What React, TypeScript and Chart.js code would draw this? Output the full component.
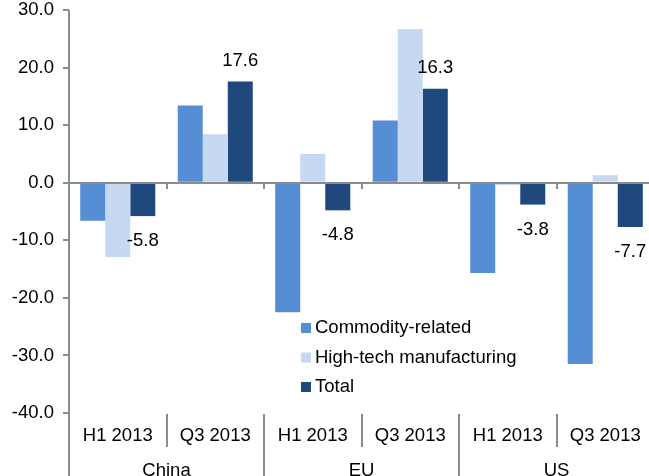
import React, { useEffect, useRef } from 'react';
import { Chart, registerables } from 'chart.js';

Chart.register(...registerables);

const categories = ['H1 2013', 'Q3 2013', 'H1 2013', 'Q3 2013', 'H1 2013', 'Q3 2013'];
const groups = ['China', 'EU', 'US'];
const commodityRelated = [-6.6, 13.4, -22.5, 10.8, -15.7, -31.5];
const highTechManufacturing = [-12.9, 8.4, 5.0, 26.7, -0.4, 1.3];
const totalValues = [-5.8, 17.6, -4.8, 16.3, -3.8, -7.7];
const seriesLabels = ['Commodity-related', 'High-tech manufacturing', 'Total'];
const seriesColors = ['#558ED5', '#C6D9F1', '#1F497D'];
const yMin = -40;
const yMax = 30;
const yStep = 10;

const FONT = '"Liberation Sans", Arial, Helvetica, sans-serif';
const FSIZE = 18.5;
const AXIS = '#8c8c8c';

function line(ctx: CanvasRenderingContext2D, x1: number, y1: number, x2: number, y2: number) {
  ctx.beginPath();
  ctx.moveTo(x1, y1);
  ctx.lineTo(x2, y2);
  ctx.stroke();
}

const decorPlugin = {
  id: 'decor',
  afterDatasetsDraw(chart: any) {
    const { ctx, chartArea: a, scales } = chart;
    const xs = scales.x;
    const ys = scales.y;
    const n = chart.data.labels.length;
    const cw = (a.right - a.left) / n;
    const y0 = Math.round(ys.getPixelForValue(0));
    ctx.save();
    ctx.strokeStyle = AXIS;
    ctx.lineWidth = 2;
    // zero line
    line(ctx, a.left, y0, a.right, y0);
    // small ticks on zero line at category boundaries
    for (let i = 1; i < n; i++) {
      const bx = Math.round(xs.getPixelForValue(i) - cw / 2);
      line(ctx, bx, y0, bx, y0 + 6);
    }
    // y axis line extending to bottom
    line(ctx, a.left, a.top, a.left, chart.height);
    // category dividers
    for (let i = 1; i < n; i++) {
      const bx = Math.round(xs.getPixelForValue(i) - cw / 2);
      const bottom = i % 2 === 0 ? chart.height : a.bottom + 34;
      line(ctx, bx, a.bottom + 1, bx, bottom);
    }
    // group labels
    ctx.fillStyle = '#000';
    ctx.font = `${FSIZE}px ${FONT}`;
    ctx.textAlign = 'center';
    ctx.textBaseline = 'alphabetic';
    groups.forEach((g, gi) => {
      const cx = (xs.getPixelForValue(gi * 2) + xs.getPixelForValue(gi * 2 + 1)) / 2;
      ctx.fillText(g, cx, 476);
    });
    // data labels on Total
    const meta = chart.getDatasetMeta(2);
    ctx.textBaseline = 'middle';
    meta.data.forEach((bar: any, i: number) => {
      const v = totalValues[i];
      const ty = v >= 0 ? bar.y - 20.5 : bar.y + 25;
      ctx.fillText(v.toFixed(1), bar.x, ty);
    });
    // legend
    ctx.textAlign = 'left';
    chart.data.datasets.forEach((ds: any, i: number) => {
      const cy = 328 + i * 29.5;
      ctx.fillStyle = ds.backgroundColor;
      ctx.fillRect(301, cy - 5, 10, 10);
      ctx.fillStyle = '#000';
      ctx.fillText(ds.label, 315, cy);
    });
    ctx.restore();
  },
};

export default function App() {
  const canvasRef = useRef<HTMLCanvasElement | null>(null);

  useEffect(() => {
    document.body.style.margin = '0';
    if (!canvasRef.current) return;
    const datasets = [commodityRelated, highTechManufacturing, totalValues].map((d, i) => ({
      label: seriesLabels[i],
      data: d,
      backgroundColor: seriesColors[i],
      borderWidth: 0,
      barPercentage: 1,
      categoryPercentage: 0.77,
    }));
    const chart = new Chart(canvasRef.current, {
      type: 'bar',
      data: { labels: categories, datasets },
      options: {
        responsive: false,
        animation: false,
        devicePixelRatio: 1,
        layout: { padding: { top: 0, right: 6, bottom: 0, left: 0 } },
        plugins: { legend: { display: false }, tooltip: { enabled: false } },
        scales: {
          x: {
            grid: { display: false, drawTicks: false },
            border: { display: false },
            ticks: { color: '#000', font: { family: FONT, size: FSIZE }, padding: 12, maxRotation: 0, autoSkip: false },
            afterFit: (s: any) => { s.height = 63; },
          },
          y: {
            min: yMin,
            max: yMax,
            grid: { display: true, drawOnChartArea: false, drawTicks: true, tickLength: 6, color: AXIS, lineWidth: 2 },
            border: { display: false },
            ticks: {
              stepSize: yStep,
              color: '#000',
              font: { family: FONT, size: FSIZE },
              padding: 9,
              callback: (v: any) => Number(v).toFixed(1),
            },
            afterFit: (s: any) => { s.width = 69; s.paddingTop = 10; s.paddingBottom = 0; },
          },
        },
      },
      plugins: [decorPlugin],
    });
    return () => chart.destroy();
  }, []);

  return (
    <div style={{ position: 'absolute', left: 0, top: 0, width: 649, height: 476, overflow: 'hidden' }}>
      <canvas ref={canvasRef} width={660} height={476} style={{ display: 'block' }} />
    </div>
  );
}
